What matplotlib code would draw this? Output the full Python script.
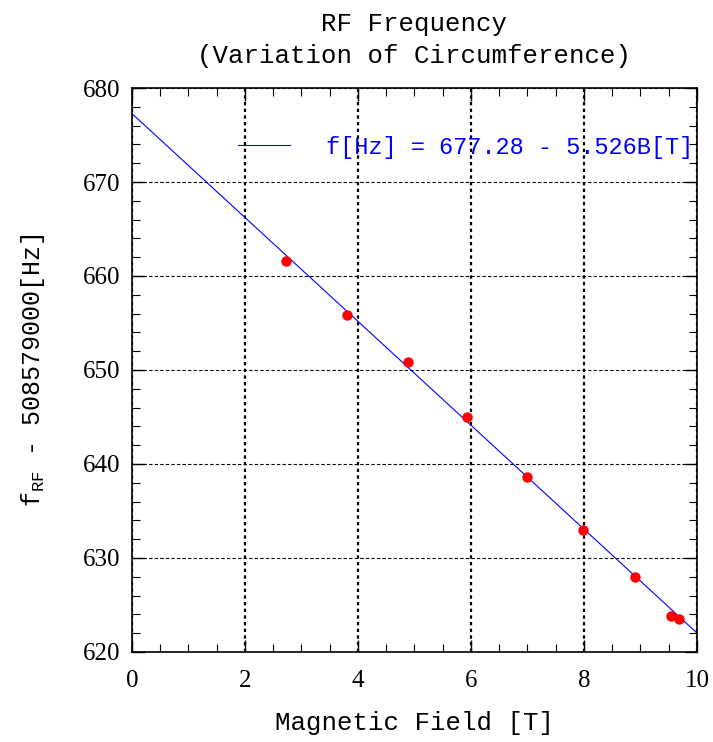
import numpy as np
import matplotlib
matplotlib.use('Agg')
import matplotlib.pyplot as plt
from matplotlib.ticker import MultipleLocator

# data
field = [2.73, 3.81, 4.88, 5.93, 6.99, 7.98, 8.90, 9.54, 9.68]
freq = [661.6, 655.8, 650.9, 645.0, 638.6, 633.0, 628.0, 623.8, 623.5]

# fit coefficients from the legend
intercept = 677.28
slope = -5.526
fit_label = 'f[Hz] = 677.28 - 5.526B[T]'

mono = 'Liberation Mono'
serif = 'Liberation Serif'

fig = plt.figure(figsize=(7.13, 7.42), dpi=100)
ax = fig.add_axes([0.185, 0.1213, 0.7925, 0.7601])

# fit line
bx = np.array([0.0, 10.0])
ax.plot(bx, intercept + slope * bx, color='blue', lw=0.8, label=fit_label)

# measured points
ax.plot(field, freq, 'o', color='red', markersize=7.5, markeredgewidth=0)

ax.set_xlim(0, 10)
ax.set_ylim(620, 680)
ax.xaxis.set_major_locator(MultipleLocator(2))
ax.xaxis.set_minor_locator(MultipleLocator(0.5))
ax.yaxis.set_major_locator(MultipleLocator(10))
ax.yaxis.set_minor_locator(MultipleLocator(2))

ax.tick_params(which='both', direction='in', top=True, right=True)
ax.tick_params(which='major', length=9, width=1, labelsize=18, pad=8)
ax.tick_params(axis='x', which='major', pad=13)
ax.tick_params(which='minor', length=6, width=0.8)
for lab in ax.get_xticklabels() + ax.get_yticklabels():
    lab.set_family(serif)

# grid: vertical dotted heavy, horizontal dashed thin
ax.xaxis.grid(True, which='major', color='black', linestyle=(0, (1.5, 1.5)), lw=1.6)
ax.yaxis.grid(True, which='major', color='black', linestyle=(0, (3, 2)), lw=0.8)
for s in ax.spines.values():
    s.set_linewidth(1.2)

ax.set_title('RF Frequency\n(Variation of Circumference)', family=mono,
             fontsize=18.5, pad=18, linespacing=1.4)
ax.set_xlabel('Magnetic Field [T]', family=mono, fontsize=18.5, labelpad=14)
ax.set_ylabel(r'f$_{\mathregular{RF}}$ - 508579000[Hz]', family=mono,
              fontsize=18, labelpad=26)

leg = ax.legend(loc='upper right', bbox_to_anchor=(1.022, 0.945),
                frameon=False, handlelength=2.2, handletextpad=1.5,
                borderaxespad=0.3, prop={'family': mono, 'size': 17})
for t in leg.get_texts():
    t.set_color('blue')

fig.savefig('out.png', dpi=100)
